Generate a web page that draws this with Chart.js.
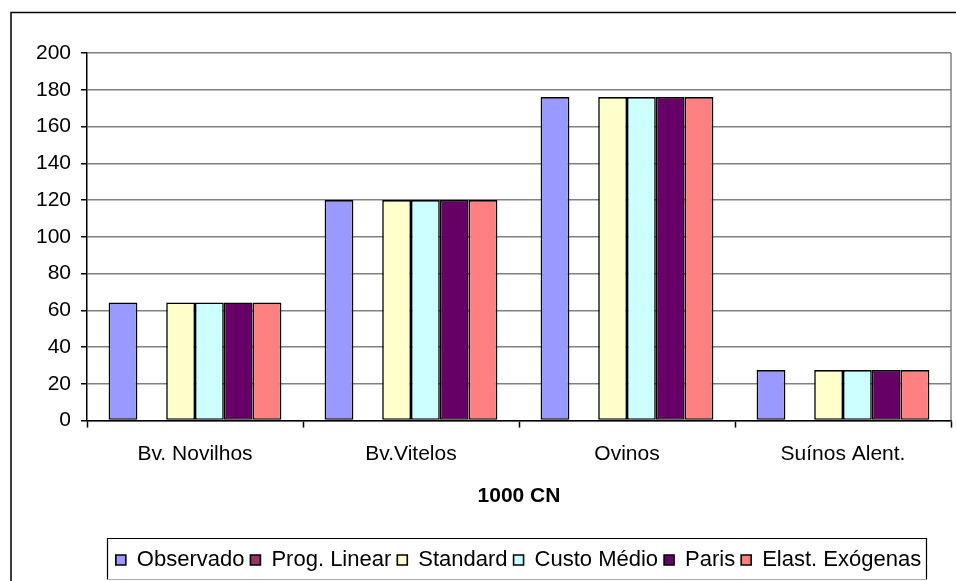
<!DOCTYPE html>
<html>
<head>
<meta charset="utf-8">
<script src="https://cdn.jsdelivr.net/npm/chart.js@4.4.1/dist/chart.umd.min.js"></script>
<style>
  html, body { margin: 0; padding: 0; background: #fff; }
  canvas { display: block; }
</style>
</head>
<body>
<canvas id="c" width="956" height="581"></canvas>
<script>
const categories = ['Bv. Novilhos', 'Bv.Vitelos', 'Ovinos', 'Suínos Alent.'];
const seriesNames = ['Observado', 'Prog. Linear', 'Standard', 'Custo Médio', 'Paris', 'Elast. Exógenas'];
const observado   = [64.3, 120, 176, 27.5];
const progLinear  = [0, 0, 0, 0];
const standard    = [64.3, 120, 176, 27.5];
const custoMedio  = [64.3, 120, 176, 27.5];
const paris       = [64.3, 120, 176, 27.5];
const elastExog   = [64.3, 120, 176, 27.5];
const yTicks = [0, 20, 40, 60, 80, 100, 120, 140, 160, 180, 200];
const xTitle = '1000 CN';

const seriesValues = [observado, progLinear, standard, custoMedio, paris, elastExog];
const seriesColors = ['#9999FF', '#993366', '#FFFFCC', '#CCFFFF', '#660066', '#FF8080'];

Chart.defaults.font.family = "'Liberation Sans', Arial, sans-serif";
Chart.defaults.color = '#000';
Chart.defaults.devicePixelRatio = 1;

const framePlugin = {
  id: 'frame',
  beforeDraw(chart) {
    const ctx = chart.ctx;
    ctx.save();
    ctx.fillStyle = '#fff';
    ctx.fillRect(0, 0, chart.width, chart.height);
    ctx.strokeStyle = '#000';
    ctx.lineWidth = 1.5;
    ctx.strokeRect(11, 12.5, 1000, 1000);
    ctx.restore();
  },
  afterDraw(chart) {
    const { ctx, chartArea: a, legend } = chart;
    ctx.save();
    ctx.strokeStyle = '#808080';
    ctx.lineWidth = 1.5;
    ctx.beginPath();
    ctx.moveTo(a.right, a.top);
    ctx.lineTo(a.right, a.bottom);
    ctx.stroke();
    const hb = legend.legendHitBoxes;
    const l = Math.round(hb[0].left - 9) + 0.5;
    const last = hb[hb.length - 1];
    const r = Math.round(last.left + last.width + 5) + 0.5;
    const t = Math.round(legend.top - 5) + 0.5;
    const b = 579.5;
    ctx.strokeStyle = '#000';
    ctx.lineWidth = 1.2;
    ctx.beginPath();
    ctx.moveTo(l, b); ctx.lineTo(l, t); ctx.lineTo(r, t); ctx.lineTo(r, b);
    ctx.stroke();
    ctx.strokeStyle = '#aaa';
    ctx.beginPath();
    ctx.moveTo(l, b); ctx.lineTo(r, b);
    ctx.stroke();
    ctx.restore();
  }
};

new Chart(document.getElementById('c'), {
  type: 'bar',
  data: {
    labels: categories,
    datasets: seriesNames.map((name, i) => ({
      label: name,
      data: seriesValues[i],
      backgroundColor: seriesColors[i],
      borderColor: '#000',
      borderWidth: 1.6,
      borderSkipped: false,
      categoryPercentage: 0.8,
      barPercentage: 1.0
    }))
  },
  options: {
    responsive: false,
    animation: false,
    layout: { padding: { left: 86, right: 5, top: 53, bottom: 0 } },
    plugins: {
      legend: {
        position: 'bottom',
        labels: {
          boxWidth: 10,
          boxHeight: 10,
          padding: 6,
          font: { size: 22 },
          color: '#000'
        }
      },
      tooltip: { enabled: false }
    },
    scales: {
      x: {
        offset: true,
        grid: {
          display: true,
          offset: true,
          drawOnChartArea: false,
          drawTicks: true,
          tickLength: 7,
          tickColor: '#000',
          tickWidth: 1.5
        },
        border: { display: true, color: '#000', width: 1.5 },
        ticks: { font: { size: 21 }, padding: 14, color: '#000', maxRotation: 0 },
        title: {
          display: true,
          text: xTitle,
          font: { size: 21, weight: 'bold' },
          color: '#000',
          padding: { top: 3, bottom: 34 }
        }
      },
      y: {
        min: 0,
        max: 200,
        afterFit(scale) {
          scale.width = 1;
          scale._computeLabelArea = function () { return undefined; };
        },
        afterBuildTicks(scale) { scale.ticks = yTicks.map(v => ({ value: v })); },
        grid: {
          color: '#808080',
          lineWidth: 1.5,
          drawTicks: true,
          tickLength: 6,
          tickColor: '#000',
          tickWidth: 1.5
        },
        border: { display: true, color: '#000', width: 1.5 },
        ticks: { font: { size: 21 }, padding: 10, color: '#000' }
      }
    }
  },
  plugins: [framePlugin]
});
</script>
</body>
</html>
